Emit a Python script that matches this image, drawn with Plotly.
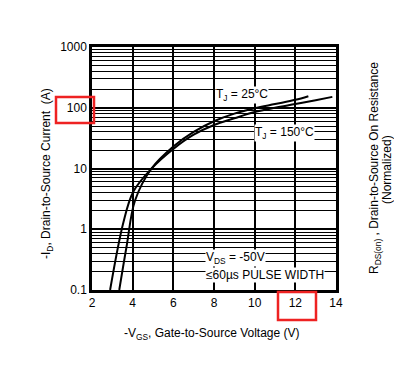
import plotly.graph_objects as go

# Data
vgs_25 = [3.34, 3.70, 4.12, 4.93, 6.0, 7.0, 8.0, 9.0, 10.0, 11.0, 12.0, 12.64]
id_25 = [0.1, 0.52, 3.0, 10.0, 23.0, 40.0, 60.0, 80.0, 98.0, 115.0, 135.0, 155.0]

vgs_150 = [2.89, 3.54, 4.03, 4.93, 6.0, 7.0, 8.0, 9.0, 10.0, 11.0, 12.0, 13.0, 13.82]
id_150 = [0.1, 1.28, 4.15, 10.0, 21.0, 36.0, 52.0, 67.0, 85.0, 100.0, 115.0, 133.0, 151.0]

x_ticks = [2, 4, 6, 8, 10, 12, 14]
y_ticks = [0.1, 1, 10, 100, 1000]
y_tick_labels = ["0.1", "1", "10", "100", "1000"]

FONT = "Liberation Sans, Arial, sans-serif"

fig = go.Figure()
fig.add_trace(go.Scatter(x=vgs_25, y=id_25, mode="lines", line=dict(color="black", width=2, shape="spline"),
                         showlegend=False, hoverinfo="skip"))
fig.add_trace(go.Scatter(x=vgs_150, y=id_150, mode="lines", line=dict(color="black", width=2, shape="spline"),
                         showlegend=False, hoverinfo="skip"))

OFF = 8  # page body margin
W, H = 402 - OFF, 366 - 2 * OFF
L, T = 92 - OFF, 47 - OFF
pw, ph = 244, 243
R, B = W - L - pw, H - T - ph


def px_x(p):
    return (p - OFF - L) / pw


def px_y(p):
    return (T + ph - (p - OFF)) / ph


fig.update_layout(
    width=W, height=H,
    margin=dict(l=L, r=R, t=T, b=B, autoexpand=False),
    paper_bgcolor="white", plot_bgcolor="white",
    font=dict(family=FONT, size=12, color="black"),
    xaxis=dict(range=[2, 14], tickvals=x_ticks, ticktext=[str(v) for v in x_ticks],
               showgrid=True, gridcolor="black", gridwidth=1.5,
               showline=True, linecolor="black", linewidth=2.5, mirror=True,
               ticks="", zeroline=False, tickfont=dict(size=12)),
    yaxis=dict(type="log", range=[-1, 3], tickvals=y_ticks, ticktext=y_tick_labels,
               showgrid=True, gridcolor="black", gridwidth=2,
               minor=dict(dtick="D1", showgrid=True, gridcolor="black", gridwidth=1, ticks=""),
               showline=True, linecolor="black", linewidth=2.5, mirror=True,
               ticks="", zeroline=False, tickfont=dict(size=12)),
)

ann = [
    dict(x=9.38, y=2.21, xref="x", yref="y", text="T<sub>J</sub> = 25°C", showarrow=False,
         xanchor="center", yanchor="middle", bgcolor="white", borderpad=0, font=dict(size=12)),
    dict(x=11.49, y=1.584, xref="x", yref="y", text="T<sub>J</sub> = 150°C", showarrow=False,
         xanchor="center", yanchor="middle", bgcolor="white", borderpad=0, font=dict(size=12)),
    dict(x=7.56, y=-0.47, xref="x", yref="y", text="V<sub>DS</sub> = -50V", showarrow=False,
         xanchor="left", yanchor="middle", bgcolor="white", borderpad=0, font=dict(size=12)),
    dict(x=7.56, y=-0.753, xref="x", yref="y", text="≤60µs PULSE WIDTH", showarrow=False,
         xanchor="left", yanchor="middle", bgcolor="white", borderpad=0, font=dict(size=12)),
    dict(x=px_x(212), y=px_y(334), xref="paper", yref="paper", xanchor="center", yanchor="middle",
         text="-V<sub>GS</sub>, Gate-to-Source Voltage (V)", showarrow=False, font=dict(size=12)),
    dict(x=px_x(47), y=px_y(174), xref="paper", yref="paper", textangle=-90,
         xanchor="center", yanchor="middle",
         text="-I<sub>D</sub>, Drain-to-Source Current  (A)", showarrow=False, font=dict(size=12)),
    dict(x=px_x(375), y=px_y(168), xref="paper", yref="paper", textangle=-90,
         xanchor="center", yanchor="middle",
         text="R<sub>DS(on)</sub> , Drain-to-Source On Resistance",
         showarrow=False, font=dict(size=12)),
    dict(x=px_x(387), y=px_y(170), xref="paper", yref="paper", textangle=-90,
         xanchor="center", yanchor="middle",
         text="(Normalized)", showarrow=False, font=dict(size=12)),
]
fig.update_layout(annotations=ann)

shapes = [
    dict(type="rect", xref="paper", yref="paper", x0=px_x(56), x1=px_x(94), y0=px_y(123), y1=px_y(97),
         line=dict(color="#ee2222", width=2.5), fillcolor="rgba(0,0,0,0)"),
    dict(type="rect", xref="paper", yref="paper", x0=px_x(278), x1=px_x(316), y0=px_y(320), y1=px_y(292),
         line=dict(color="#ee2222", width=2.5), fillcolor="rgba(0,0,0,0)"),
]
fig.update_layout(shapes=shapes)

fig.write_html("out.html")
